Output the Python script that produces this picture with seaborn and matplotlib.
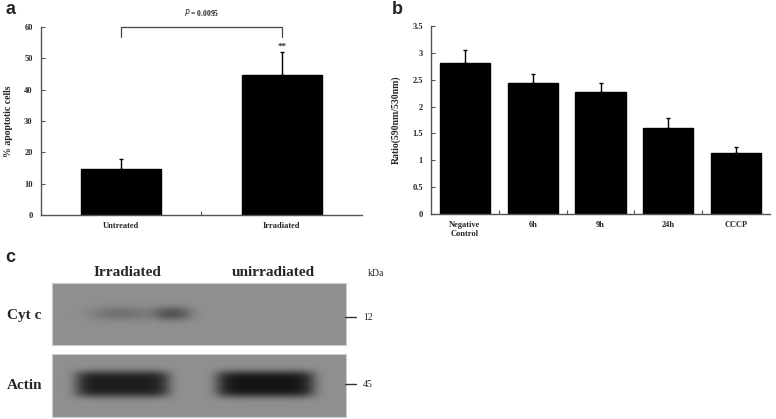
import numpy as np
import pandas as pd
import matplotlib
matplotlib.use('Agg')
import matplotlib.pyplot as plt
import seaborn as sns

# ---- data ----
groups_a = ['Untreated', 'Irradiated']
pct_apoptotic = [14.7, 44.7]
err_a = [3.2, 7.2]
p_text = '= 0.0095'

groups_b = ['Negative\nControl', '6h', '9h', '24h', 'CCCP']
ratio_vals = [2.81, 2.44, 2.28, 1.61, 1.13]
err_b = [0.25, 0.16, 0.15, 0.17, 0.12]

lane_labels = ['Irradiated', 'unirradiated']
blot_rows = ['Cyt c', 'Actin']
kda_marks = ['12', '45']
# band centres / half widths in blot pixels, darkness 0..1
cytc_centres = [68, 120]
cytc_widths = [30, 19]
cytc_dark = [0.2, 0.4]
actin_centres = [70, 213]
actin_widths = [47, 49]
actin_dark = [0.8, 0.86]

sns.set_style('ticks')
plt.rcParams['font.family'] = ['Liberation Serif', 'DejaVu Serif']

fig = plt.figure(figsize=(7.76, 4.19), dpi=100)


def style_axes(ax, ymax, step, fmt):
    for s in ['top', 'right']:
        ax.spines[s].set_visible(False)
    for s in ['left', 'bottom']:
        ax.spines[s].set_color('#555555')
        ax.spines[s].set_linewidth(1.0)
    ax.set_ylim(0, ymax)
    ticks = np.arange(0, ymax + step / 2, step)
    ax.set_yticks(ticks)
    ax.set_yticklabels([fmt(t) for t in ticks], fontsize=6, fontweight='bold')
    ax.tick_params(axis='y', direction='in', length=3, width=0.8, color='#555555', pad=6)
    ax.tick_params(axis='x', length=0, pad=5)
    n = len(ax.get_xticks())
    ax.set_xticks(np.arange(0.5, n - 0.5, 1), minor=True)
    ax.tick_params(axis='x', which='minor', direction='in', length=3, width=0.8, color='#555555')
    ax.set_xlabel('')
    for lbl in ax.get_xticklabels():
        lbl.set_fontsize(6)
        lbl.set_fontweight('bold')


# ---- panel a ----
ax_a = fig.add_axes([0.0528, 0.487, 0.4137, 0.449])
df_a = pd.DataFrame({'group': groups_a, 'value': pct_apoptotic})
sns.barplot(data=df_a, x='group', y='value', color='black', width=0.5,
            edgecolor='black', ax=ax_a)
ax_a.errorbar(range(len(groups_a)), pct_apoptotic, yerr=[[0] * len(err_a), err_a],
              fmt='none', ecolor='black', elinewidth=1, capsize=1.5, capthick=1)
ax_a.set_xlim(-0.5, 1.5)
style_axes(ax_a, 60, 10, lambda t: f'{t:.0f}')
ax_a.set_ylabel('% apoptotic cells', fontsize=7, fontweight='bold', labelpad=8)
# significance bracket
top = 60
ax_a.plot([0, 0, 1, 1], [top - 3.2, top, top, top - 3.2], color='#444444', lw=0.9,
          clip_on=False)
ax_a.text(0.5, top + 4.5, '$\\mathbf{\\it{P}}$ ' + p_text, ha='center', va='center',
          fontsize=5.5, fontweight='bold')
ax_a.text(1, pct_apoptotic[1] + err_a[1] + 1.8, '**', ha='center', va='center',
          fontsize=6.5, fontweight='bold')

# ---- panel b ----
ax_b = fig.add_axes([0.5554, 0.489, 0.4369, 0.449])
df_b = pd.DataFrame({'group': groups_b, 'value': ratio_vals})
sns.barplot(data=df_b, x='group', y='value', color='black', width=0.74,
            edgecolor='black', ax=ax_b)
ax_b.errorbar(range(len(groups_b)), ratio_vals, yerr=[[0] * len(err_b), err_b],
              fmt='none', ecolor='black', elinewidth=1, capsize=1.5, capthick=1)
ax_b.set_xlim(-0.5, 4.5)
style_axes(ax_b, 3.5, 0.5, lambda t: f'{t:g}')
ax_b.set_ylabel('Ratio(590nm/530nm)', fontsize=7, fontweight='bold', labelpad=8)

# ---- panel c: blot ----
bg = 0.56


def blot(h, w, centres, widths, dark, yc, yh, px, py):
    xx = np.arange(w)[None, :]
    yy = np.arange(h)[:, None]
    img = np.full((h, w), bg)
    for c, hw, d in zip(centres, widths, dark):
        prof = np.exp(-np.abs((xx - c) / hw) ** px) * np.exp(-np.abs((yy - yc) / yh) ** py)
        img = img - d * bg * prof
    return img


img_top = blot(62, 294, cytc_centres, cytc_widths, cytc_dark, 30, 7, 2.5, 2.2)
img_bot = blot(63, 294, actin_centres, actin_widths, actin_dark, 30, 13, 7, 4)

ax_c1 = fig.add_axes([52 / 776, 1 - 345 / 419, 294 / 776, 62 / 419])
ax_c2 = fig.add_axes([52 / 776, 1 - 417 / 419, 294 / 776, 63 / 419])
for axc, img in [(ax_c1, img_top), (ax_c2, img_bot)]:
    axc.imshow(img, cmap='gray', vmin=0, vmax=1, aspect='auto', interpolation='bilinear')
    axc.set_xticks([])
    axc.set_yticks([])
    for s in axc.spines.values():
        s.set_color('#cccccc')
        s.set_linewidth(0.8)

for x, lab in zip([127, 273], lane_labels):
    fig.text(x / 776, 1 - 272 / 419, lab, ha='center', va='center', fontsize=11,
             fontweight='bold')
for y, lab in zip([315, 385], blot_rows):
    fig.text(7 / 776, 1 - y / 419, lab, ha='left', va='center', fontsize=11,
             fontweight='bold')
fig.text(368 / 776, 1 - 273 / 419, 'kDa', ha='left', va='center', fontsize=7)
for y, lab in zip([317, 384], kda_marks):
    fig.add_artist(plt.Line2D([345 / 776, 356 / 776], [1 - y / 419, 1 - y / 419],
                              color='#333333', lw=1))
    fig.text(363 / 776, 1 - y / 419, lab, ha='left', va='center', fontsize=7)

# panel letters
for x, y, lab in [(5, 10, 'a'), (392, 10, 'b'), (5, 257, 'c')]:
    fig.text(x / 776, 1 - y / 419, lab, ha='left', va='center', fontsize=13,
             fontweight='bold', family=['Liberation Sans', 'DejaVu Sans'])

fig.savefig('out.png', dpi=100)
